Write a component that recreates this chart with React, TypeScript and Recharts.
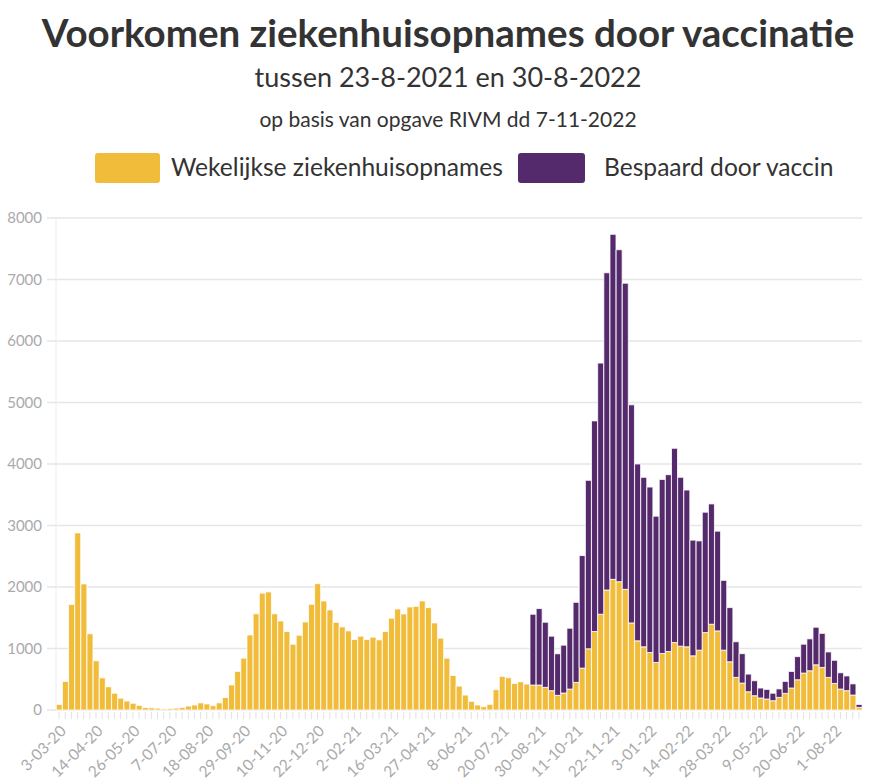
import React from 'react';
import { BarChart, Bar, XAxis, YAxis, CartesianGrid } from 'recharts';

// weekly hospital admissions, from 3-03-2020 (one bar per week)
const weekly = [
  90, 465, 1715, 2880, 2050, 1240, 800, 523, 378, 273,
  192, 145, 110, 75, 40, 35, 30, 17, 23, 30,
  40, 64, 81, 116, 99, 70, 116, 203, 407, 628,
  843, 1220, 1564, 1900, 1920, 1564, 1448, 1276, 1070, 1216,
  1432, 1719, 2054, 1773, 1627, 1427, 1351, 1286, 1146, 1200,
  1146, 1184, 1140, 1276, 1492, 1643, 1562, 1676, 1686, 1773,
  1665, 1416, 1168, 843, 562, 389, 243, 141, 81, 54,
  92, 330, 546, 525, 432, 459, 422, 405, 405, 368,
  314, 238, 276, 340, 449, 681, 995, 1276, 1557, 1951,
  2124, 2086, 1962, 1416, 1124, 1027, 935, 773, 919, 951,
  1097, 1038, 1027, 881, 973, 1259, 1395, 1286, 973, 784,
  530, 438, 297, 232, 195, 178, 151, 205, 270, 357,
  492, 600, 638, 735, 692, 530, 432, 340, 314, 243,
  43,
];

// admissions prevented by vaccination, from 23-08-2021
const savedFrom = 77;
const saved = [
  1152, 1244, 1059, 886, 676, 778, 990, 1302, 1830, 2739,
  3425, 4084, 5158, 5610, 5398, 4978, 3546, 2876, 2756, 2690,
  2379, 2831, 2875, 3158, 2745, 2549, 1881, 1777, 1957, 1956,
  1622, 1135, 881, 580, 478, 287, 244, 162, 157, 122,
  138, 195, 270, 376, 470, 519, 611, 554, 414, 376,
  265, 240, 182, 47,
];

const yTicks = [0, 1000, 2000, 3000, 4000, 5000, 6000, 7000, 8000];

const YELLOW = '#F0BC3A';
const PURPLE = '#552A6D';
const FONT = 'Lato, "Noto Sans", sans-serif';

// week labels: tuesdays until the vaccine series starts, mondays after
const weekLabel = (i: number) => {
  const d = new Date(2020, 2, 3 + i * 7 - (i >= savedFrom ? 1 : 0));
  const mm = String(d.getMonth() + 1).padStart(2, '0');
  const yy = String(d.getFullYear()).slice(2);
  return `${d.getDate()}-${mm}-${yy}`;
};

const data = weekly.map((w, i) => ({
  week: weekLabel(i),
  weekly: w,
  saved: i >= savedFrom ? saved[i - savedFrom] : null,
}));

const WeekTick = (props: any) => {
  const { x, y, payload, index } = props;
  const show = index % 6 === 0;
  const ax = x + 8;
  const ay = y + 22;
  return (
    <g>
      <line x1={x} x2={x} y1={y + 2} y2={y + 9} stroke="#e2e2e2" strokeWidth={1} />
      {show && (
        <text
          x={ax}
          y={ay}
          transform={`rotate(-45, ${ax}, ${ay})`}
          textAnchor="end"
          fill="#aaaaaa"
          fontSize={15.5}
          fontFamily={FONT}
        >
          {payload.value}
        </text>
      )}
    </g>
  );
};

const App: React.FC = () => {
  return (
    <div style={{ position: 'absolute', left: 0, top: 0, width: 878, height: 781, background: '#fff', fontFamily: FONT, color: '#333' }}>
      <div style={{ position: 'absolute', left: 9, top: 13, width: 878, textAlign: 'center', fontSize: 38.5, fontWeight: 700, lineHeight: 1 }}>
        Voorkomen ziekenhuisopnames door vaccinatie
      </div>
      <div style={{ position: 'absolute', left: 9, top: 63, width: 878, textAlign: 'center', fontSize: 27, lineHeight: 1 }}>
        tussen 23-8-2021 en 30-8-2022
      </div>
      <div style={{ position: 'absolute', left: 9, top: 108, width: 878, textAlign: 'center', fontSize: 21, lineHeight: 1 }}>
        op basis van opgave RIVM dd 7-11-2022
      </div>

      <div style={{ position: 'absolute', left: 95, top: 153, width: 65, height: 30, background: YELLOW, borderRadius: 3 }} />
      <div style={{ position: 'absolute', left: 171, top: 155, fontSize: 24.6, lineHeight: 1 }}>Wekelijkse ziekenhuisopnames</div>
      <div style={{ position: 'absolute', left: 518, top: 153, width: 67, height: 30, background: PURPLE, borderRadius: 3 }} />
      <div style={{ position: 'absolute', left: 604, top: 155, fontSize: 24.6, lineHeight: 1 }}>Bespaard door vaccin</div>

      <div style={{ position: 'absolute', left: 0, top: 200 }}>
        <BarChart
          width={878}
          height={581}
          data={data}
          margin={{ top: 18, right: 16, bottom: 0, left: 0 }}
          barCategoryGap="4%"
        >
          <CartesianGrid vertical={false} stroke="#e6e6e6" strokeWidth={1.5} />
          <XAxis
            dataKey="week"
            interval={0}
            height={71}
            tickSize={0}
            tickMargin={0}
            axisLine={false}
            tickLine={false}
            tick={<WeekTick />}
          />
          <YAxis
            width={56}
            domain={[0, 8000]}
            ticks={yTicks}
            tickSize={9}
            tickMargin={5}
            axisLine={{ stroke: '#ececec' }}
            tickLine={{ stroke: '#e6e6e6', strokeWidth: 1.5 }}
            tick={{ fill: '#aaaaaa', fontSize: 15, fontFamily: FONT }}
          />
          <Bar dataKey="weekly" stackId="a" fill={YELLOW} stroke="#fff" strokeWidth={0.8} isAnimationActive={false} />
          <Bar dataKey="saved" stackId="a" fill={PURPLE} stroke="#fff" strokeWidth={0.8} isAnimationActive={false} />
        </BarChart>
      </div>
    </div>
  );
};

export default App;
